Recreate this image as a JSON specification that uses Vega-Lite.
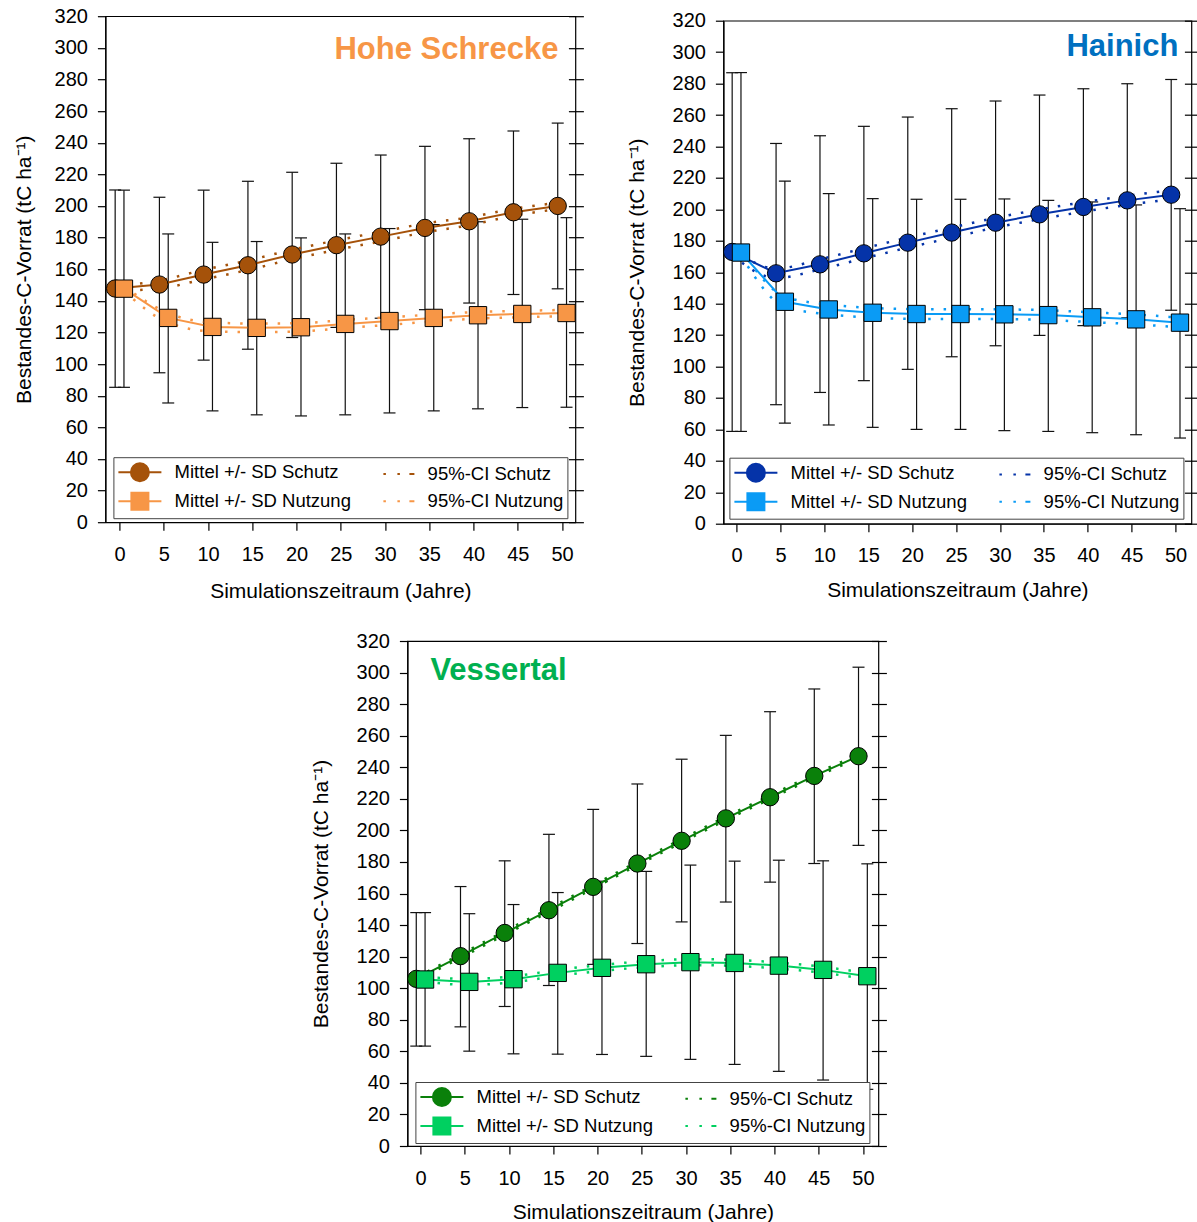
{
"$schema":"https://vega.github.io/schema/vega-lite/v6.json",
"padding":{"left":12,"top":5,"right":0,"bottom":0},
"background":"white",
"config":{
 "font":"Liberation Sans",
 "view":{"stroke":"#000","strokeWidth":1.2},
 "axis":{"labelFont":"Liberation Sans","labelFontSize":20,"labelColor":"#000","titleFont":"Liberation Sans","titleFontSize":21,"titleFontWeight":"normal","titleColor":"#000","domainColor":"#000","tickColor":"#000","grid":false,"tickSize":8,"domainWidth":1.2,"tickWidth":1.2},
 "legend":{"orient":"none","columns":2,"labelFontSize":18.5,"labelFont":"Liberation Sans","labelColor":"#000","symbolSize":400,"symbolStrokeWidth":2,"symbolOpacity":1,"symbolOffset":11.5,"labelOffset":23.7,"rowPadding":3,"columnPadding":19,"padding":4,"strokeColor":"#444","fillColor":"#fff","labelLimit":300},
 "title":{"font":"Liberation Sans"}
},
"datasets":{
"hs":[
{"t":0,"s":"Schutz","m":147.8,"lo":85.3,"hi":210.1,"cl":146.3,"cu":149.3},
{"t":5,"s":"Schutz","m":150.3,"lo":94.5,"hi":205.5,"cl":147.8,"cu":152.8},
{"t":10,"s":"Schutz","m":156.6,"lo":102.5,"hi":210.0,"cl":153.6,"cu":159.6},
{"t":15,"s":"Schutz","m":162.5,"lo":109.4,"hi":215.6,"cl":159.5,"cu":165.5},
{"t":20,"s":"Schutz","m":169.3,"lo":116.8,"hi":221.3,"cl":166.3,"cu":172.3},
{"t":25,"s":"Schutz","m":175.2,"lo":123.2,"hi":227.0,"cl":172.2,"cu":178.2},
{"t":30,"s":"Schutz","m":180.6,"lo":129.0,"hi":232.2,"cl":177.6,"cu":183.6},
{"t":35,"s":"Schutz","m":186.1,"lo":134.4,"hi":237.7,"cl":183.3,"cu":188.9},
{"t":40,"s":"Schutz","m":190.3,"lo":138.6,"hi":242.5,"cl":187.8,"cu":192.8},
{"t":45,"s":"Schutz","m":196.0,"lo":144.0,"hi":247.4,"cl":193.8,"cu":198.2},
{"t":50,"s":"Schutz","m":200.0,"lo":147.6,"hi":252.4,"cl":198.0,"cu":202.0},
{"t":0,"s":"Nutzung","m":147.7,"lo":85.3,"hi":210.0,"cl":146.2,"cu":149.2},
{"t":5,"s":"Nutzung","m":129.2,"lo":75.4,"hi":182.3,"cl":126.2,"cu":132.2},
{"t":10,"s":"Nutzung","m":123.5,"lo":70.4,"hi":177.0,"cl":120.7,"cu":126.3},
{"t":15,"s":"Nutzung","m":122.9,"lo":67.9,"hi":177.5,"cl":120.2,"cu":125.6},
{"t":20,"s":"Nutzung","m":123.3,"lo":67.2,"hi":179.8,"cl":120.7,"cu":125.9},
{"t":25,"s":"Nutzung","m":125.4,"lo":67.9,"hi":182.3,"cl":122.9,"cu":127.9},
{"t":30,"s":"Nutzung","m":127.2,"lo":69.1,"hi":185.7,"cl":124.8,"cu":129.6},
{"t":35,"s":"Nutzung","m":129.2,"lo":70.4,"hi":188.2,"cl":127.0,"cu":131.4},
{"t":40,"s":"Nutzung","m":130.9,"lo":71.7,"hi":190.0,"cl":128.8,"cu":133.0},
{"t":45,"s":"Nutzung","m":131.7,"lo":72.5,"hi":191.6,"cl":129.7,"cu":133.7},
{"t":50,"s":"Nutzung","m":132.3,"lo":72.7,"hi":192.6,"cl":130.3,"cu":134.3}
],
"ha":[
{"t":0,"s":"Schutz","m":172.9,"lo":58.7,"hi":286.9,"cl":170.9,"cu":174.9},
{"t":5,"s":"Schutz","m":159.3,"lo":75.7,"hi":241.9,"cl":156.3,"cu":162.3},
{"t":10,"s":"Schutz","m":165.0,"lo":83.5,"hi":246.8,"cl":161.8,"cu":168.2},
{"t":15,"s":"Schutz","m":172.0,"lo":91.0,"hi":252.8,"cl":168.8,"cu":175.2},
{"t":20,"s":"Schutz","m":178.8,"lo":98.2,"hi":258.7,"cl":175.6,"cu":182.0},
{"t":25,"s":"Schutz","m":185.2,"lo":106.2,"hi":264.0,"cl":182.0,"cu":188.4},
{"t":30,"s":"Schutz","m":191.5,"lo":113.2,"hi":268.9,"cl":188.4,"cu":194.6},
{"t":35,"s":"Schutz","m":196.8,"lo":119.8,"hi":272.7,"cl":193.7,"cu":199.9},
{"t":40,"s":"Schutz","m":201.5,"lo":126.0,"hi":276.7,"cl":198.5,"cu":204.5},
{"t":45,"s":"Schutz","m":205.7,"lo":131.0,"hi":279.9,"cl":202.8,"cu":208.6},
{"t":50,"s":"Schutz","m":209.3,"lo":135.8,"hi":282.6,"cl":206.4,"cu":212.2},
{"t":0,"s":"Nutzung","m":172.5,"lo":58.7,"hi":287.0,"cl":170.5,"cu":174.5},
{"t":5,"s":"Nutzung","m":141.2,"lo":64.0,"hi":218.0,"cl":138.0,"cu":144.4},
{"t":10,"s":"Nutzung","m":136.3,"lo":62.8,"hi":210.0,"cl":133.2,"cu":139.4},
{"t":15,"s":"Nutzung","m":134.2,"lo":61.3,"hi":206.8,"cl":131.1,"cu":137.3},
{"t":20,"s":"Nutzung","m":133.4,"lo":60.0,"hi":206.4,"cl":130.3,"cu":136.5},
{"t":25,"s":"Nutzung","m":133.4,"lo":60.0,"hi":206.4,"cl":130.3,"cu":136.5},
{"t":30,"s":"Nutzung","m":133.2,"lo":59.2,"hi":206.6,"cl":130.1,"cu":136.3},
{"t":35,"s":"Nutzung","m":132.7,"lo":58.7,"hi":205.7,"cl":129.6,"cu":135.8},
{"t":40,"s":"Nutzung","m":131.3,"lo":57.9,"hi":204.7,"cl":128.2,"cu":134.4},
{"t":45,"s":"Nutzung","m":130.0,"lo":56.6,"hi":202.8,"cl":126.9,"cu":133.1},
{"t":50,"s":"Nutzung","m":127.9,"lo":54.5,"hi":200.4,"cl":124.8,"cu":131.0}
],
"ve":[
{"t":0,"s":"Schutz","m":105.9,"lo":63.3,"hi":147.9,"cl":104.9,"cu":106.9},
{"t":5,"s":"Schutz","m":120.3,"lo":75.5,"hi":164.4,"cl":119.2,"cu":121.4},
{"t":10,"s":"Schutz","m":135.0,"lo":88.4,"hi":180.7,"cl":133.9,"cu":136.1},
{"t":15,"s":"Schutz","m":149.4,"lo":101.7,"hi":197.5,"cl":148.3,"cu":150.5},
{"t":20,"s":"Schutz","m":164.2,"lo":115.1,"hi":213.3,"cl":163.1,"cu":165.3},
{"t":25,"s":"Schutz","m":179.0,"lo":128.3,"hi":229.4,"cl":177.9,"cu":180.1},
{"t":30,"s":"Schutz","m":193.4,"lo":142.0,"hi":245.1,"cl":192.3,"cu":194.5},
{"t":35,"s":"Schutz","m":207.6,"lo":154.6,"hi":260.2,"cl":206.5,"cu":208.7},
{"t":40,"s":"Schutz","m":221.0,"lo":167.2,"hi":275.2,"cl":219.9,"cu":222.1},
{"t":45,"s":"Schutz","m":234.5,"lo":179.0,"hi":289.6,"cl":233.4,"cu":235.6},
{"t":50,"s":"Schutz","m":247.0,"lo":190.5,"hi":303.4,"cl":245.9,"cu":248.1},
{"t":0,"s":"Nutzung","m":105.5,"lo":63.3,"hi":147.9,"cl":104.0,"cu":107.0},
{"t":5,"s":"Nutzung","m":104.0,"lo":60.1,"hi":147.2,"cl":102.1,"cu":105.9},
{"t":10,"s":"Nutzung","m":105.7,"lo":58.4,"hi":153.0,"cl":103.8,"cu":107.6},
{"t":15,"s":"Nutzung","m":109.7,"lo":58.2,"hi":160.6,"cl":107.8,"cu":111.6},
{"t":20,"s":"Nutzung","m":112.9,"lo":58.0,"hi":167.8,"cl":111.0,"cu":114.8},
{"t":25,"s":"Nutzung","m":115.2,"lo":56.8,"hi":174.0,"cl":113.3,"cu":117.1},
{"t":30,"s":"Nutzung","m":116.5,"lo":54.9,"hi":178.0,"cl":114.6,"cu":118.4},
{"t":35,"s":"Nutzung","m":116.0,"lo":51.7,"hi":180.5,"cl":114.1,"cu":117.9},
{"t":40,"s":"Nutzung","m":114.3,"lo":47.3,"hi":181.1,"cl":112.4,"cu":116.2},
{"t":45,"s":"Nutzung","m":111.6,"lo":41.8,"hi":180.7,"cl":109.7,"cu":113.5},
{"t":50,"s":"Nutzung","m":107.6,"lo":35.9,"hi":178.8,"cl":105.7,"cu":109.5}
]
},
"spacing":24,
"center":true,
"resolve":{"scale":{"fill":"independent","stroke":"independent","shape":"independent"},"legend":{"fill":"independent","stroke":"independent","shape":"independent"}},
"vconcat":[
{"hconcat":[
{
"width":470,"height":506,
"data":{"name":"hs"},
"title":{"text":"Hohe Schrecke","anchor":"end","frame":"group","orient":"top","offset":-84,"dx":-17,"fontSize":31,"fontWeight":"bold","color":"#F79646","baseline":"alphabetic"},
"resolve":{"axis":{"y":"independent"}},
"encoding":{"x":{"field":"t","type":"quantitative","scale":{"domain":[-1.6,51.5],"nice":false,"zero":false},"axis":{"values":[0,5,10,15,20,25,30,35,40,45,50],"title":["Simulationszeitraum (Jahre)"," "],"titleLineHeight":4,"labelPadding":14,"titlePadding":16,"labelFlush":false,"labelOverlap":false}}},
"layer":[
{"transform":[{"filter":"datum.s=='Schutz'"}],"mark":{"type":"rule","xOffset":-4.4,"color":"#111","strokeWidth":1.2},
 "encoding":{"y":{"field":"lo","type":"quantitative","scale":{"domain":[0,320],"nice":false},"axis":{"values":[0,20,40,60,80,100,120,140,160,180,200,220,240,260,280,300,320],"title":"Bestandes-C-Vorrat (tC ha⁻¹)","labelPadding":10,"titlePadding":20,"labelOverlap":false,"labelFlush":false}},"y2":{"field":"hi"}}},
{"transform":[{"filter":"datum.s=='Nutzung'"}],"mark":{"type":"rule","xOffset":4.4,"color":"#111","strokeWidth":1.2},
 "encoding":{"y":{"field":"lo","type":"quantitative","axis":{"orient":"right","values":[0,20,40,60,80,100,120,140,160,180,200,220,240,260,280,300,320],"labels":false,"domain":false,"title":null,"tickSize":15,"offset":-7}},"y2":{"field":"hi"}}},
{"transform":[{"filter":"datum.s=='Schutz'"}],"mark":{"type":"tick","orient":"horizontal","size":12,"thickness":1.2,"color":"#111","opacity":1,"xOffset":-4.4},"encoding":{"y":{"field":"lo","type":"quantitative","axis":null}}},
{"transform":[{"filter":"datum.s=='Schutz'"}],"mark":{"type":"tick","orient":"horizontal","size":12,"thickness":1.2,"color":"#111","opacity":1,"xOffset":-4.4},"encoding":{"y":{"field":"hi","type":"quantitative","axis":null}}},
{"transform":[{"filter":"datum.s=='Nutzung'"}],"mark":{"type":"tick","orient":"horizontal","size":12,"thickness":1.2,"color":"#111","opacity":1,"xOffset":4.4},"encoding":{"y":{"field":"lo","type":"quantitative","axis":null}}},
{"transform":[{"filter":"datum.s=='Nutzung'"}],"mark":{"type":"tick","orient":"horizontal","size":12,"thickness":1.2,"color":"#111","opacity":1,"xOffset":4.4},"encoding":{"y":{"field":"hi","type":"quantitative","axis":null}}},
{"transform":[{"filter":"datum.s=='Schutz'"}],"mark":{"type":"line","interpolate":"monotone","strokeDash":[2.5,10],"strokeWidth":2.5,"color":"#A5520A","xOffset":-4.4},"encoding":{"y":{"field":"cu","type":"quantitative","axis":null}}},
{"transform":[{"filter":"datum.s=='Schutz'"}],"mark":{"type":"line","interpolate":"monotone","strokeDash":[2.5,10],"strokeWidth":2.5,"color":"#A5520A","xOffset":-4.4},"encoding":{"y":{"field":"cl","type":"quantitative","axis":null}}},
{"transform":[{"filter":"datum.s=='Nutzung'"}],"mark":{"type":"line","interpolate":"monotone","strokeDash":[2.5,10],"strokeWidth":2.5,"color":"#F79646","xOffset":4.4},"encoding":{"y":{"field":"cu","type":"quantitative","axis":null}}},
{"transform":[{"filter":"datum.s=='Nutzung'"}],"mark":{"type":"line","interpolate":"monotone","strokeDash":[2.5,10],"strokeWidth":2.5,"color":"#F79646","xOffset":4.4},"encoding":{"y":{"field":"cl","type":"quantitative","axis":null}}},
{"transform":[{"filter":"datum.s=='Schutz'"}],"mark":{"type":"line","strokeWidth":2,"color":"#A5520A","xOffset":-4.4},"encoding":{"y":{"field":"m","type":"quantitative","axis":null}}},
{"transform":[{"filter":"datum.s=='Nutzung'"}],"mark":{"type":"line","strokeWidth":2,"color":"#F79646","xOffset":4.4},"encoding":{"y":{"field":"m","type":"quantitative","axis":null}}},
{"transform":[{"filter":"datum.s=='Schutz'"}],"mark":{"type":"point","shape":"circle","filled":true,"fill":"#A5520A","stroke":"#000","strokeWidth":1,"size":300,"opacity":1,"xOffset":-4.4},"encoding":{"y":{"field":"m","type":"quantitative","axis":null}}},
{"transform":[{"filter":"datum.s=='Nutzung'"}],"mark":{"type":"point","shape":"square","filled":true,"fill":"#F79646","stroke":"#000","strokeWidth":1,"size":300,"opacity":1,"xOffset":4.4},"encoding":{"y":{"field":"m","type":"quantitative","axis":null}}},
{"data":{"values":[{"leg":"Mittel +/- SD Schutz"},{"leg":"Mittel +/- SD Nutzung"},{"leg":"95%-CI Schutz"},{"leg":"95%-CI Nutzung"}]},
 "mark":{"type":"point","filled":true,"opacity":0},
 "encoding":{
  "fill":{"field":"leg","type":"nominal","scale":{"domain":["Mittel +/- SD Schutz","Mittel +/- SD Nutzung","95%-CI Schutz","95%-CI Nutzung"],"range":["#A5520A","#F79646","transparent","transparent"]},"legend":{"legendX":8,"legendY":441,"title":null}},
  "stroke":{"field":"leg","type":"nominal","scale":{"domain":["Mittel +/- SD Schutz","Mittel +/- SD Nutzung","95%-CI Schutz","95%-CI Nutzung"],"range":["#A5520A","#F79646","#A5520A","#F79646"]},"legend":{"legendX":8,"legendY":441,"title":null}},
  "shape":{"field":"leg","type":"nominal","scale":{"domain":["Mittel +/- SD Schutz","Mittel +/- SD Nutzung","95%-CI Schutz","95%-CI Nutzung"],"range":["M-2.15,0H-0.9M0.9,0H2.15M-0.9,0A0.9,0.9,0,1,0,0.9,0A0.9,0.9,0,1,0,-0.9,0Z","M-2.15,0H-0.85M0.85,0H2.15M-0.85,-0.85H0.85V0.85H-0.85Z","M-0.95,0H-0.7M0.45,0H0.7M1.65,0H2.15","M-0.95,0H-0.7M0.45,0H0.7M1.65,0H2.15"]},"legend":{"legendX":8,"legendY":441,"title":null}}
 }}
]
},
{
"width":468,"height":503,
"data":{"name":"ha"},
"title":{"text":"Hainich","anchor":"end","frame":"group","orient":"top","offset":-76,"dx":-13,"fontSize":31,"fontWeight":"bold","color":"#0070C0","baseline":"alphabetic"},
"resolve":{"axis":{"y":"independent"}},
"encoding":{"x":{"field":"t","type":"quantitative","scale":{"domain":[-1.5,51.8],"nice":false,"zero":false},"axis":{"values":[0,5,10,15,20,25,30,35,40,45,50],"title":"Simulationszeitraum (Jahre)","labelPadding":14,"titlePadding":14,"labelFlush":false,"labelOverlap":false}}},
"layer":[
{"transform":[{"filter":"datum.s=='Schutz'"}],"mark":{"type":"rule","xOffset":-4.4,"color":"#111","strokeWidth":1.2},
 "encoding":{"y":{"field":"lo","type":"quantitative","scale":{"domain":[0,320],"nice":false},"axis":{"values":[0,20,40,60,80,100,120,140,160,180,200,220,240,260,280,300,320],"title":"Bestandes-C-Vorrat (tC ha⁻¹)","labelPadding":10,"titlePadding":25,"labelOverlap":false,"labelFlush":false}},"y2":{"field":"hi"}}},
{"transform":[{"filter":"datum.s=='Nutzung'"}],"mark":{"type":"rule","xOffset":4.4,"color":"#111","strokeWidth":1.2},
 "encoding":{"y":{"field":"lo","type":"quantitative","axis":{"orient":"right","values":[0,20,40,60,80,100,120,140,160,180,200,220,240,260,280,300,320],"labels":false,"domain":false,"title":null,"tickSize":15,"offset":-7}},"y2":{"field":"hi"}}},
{"transform":[{"filter":"datum.s=='Schutz'"}],"mark":{"type":"tick","orient":"horizontal","size":12,"thickness":1.2,"color":"#111","opacity":1,"xOffset":-4.4},"encoding":{"y":{"field":"lo","type":"quantitative","axis":null}}},
{"transform":[{"filter":"datum.s=='Schutz'"}],"mark":{"type":"tick","orient":"horizontal","size":12,"thickness":1.2,"color":"#111","opacity":1,"xOffset":-4.4},"encoding":{"y":{"field":"hi","type":"quantitative","axis":null}}},
{"transform":[{"filter":"datum.s=='Nutzung'"}],"mark":{"type":"tick","orient":"horizontal","size":12,"thickness":1.2,"color":"#111","opacity":1,"xOffset":4.4},"encoding":{"y":{"field":"lo","type":"quantitative","axis":null}}},
{"transform":[{"filter":"datum.s=='Nutzung'"}],"mark":{"type":"tick","orient":"horizontal","size":12,"thickness":1.2,"color":"#111","opacity":1,"xOffset":4.4},"encoding":{"y":{"field":"hi","type":"quantitative","axis":null}}},
{"transform":[{"filter":"datum.s=='Schutz'"}],"mark":{"type":"line","interpolate":"monotone","strokeDash":[2.5,10],"strokeWidth":2.5,"color":"#0533A8","xOffset":-4.4},"encoding":{"y":{"field":"cu","type":"quantitative","axis":null}}},
{"transform":[{"filter":"datum.s=='Schutz'"}],"mark":{"type":"line","interpolate":"monotone","strokeDash":[2.5,10],"strokeWidth":2.5,"color":"#0533A8","xOffset":-4.4},"encoding":{"y":{"field":"cl","type":"quantitative","axis":null}}},
{"transform":[{"filter":"datum.s=='Nutzung'"}],"mark":{"type":"line","interpolate":"monotone","strokeDash":[2.5,10],"strokeWidth":2.5,"color":"#0A9BF5","xOffset":4.4},"encoding":{"y":{"field":"cu","type":"quantitative","axis":null}}},
{"transform":[{"filter":"datum.s=='Nutzung'"}],"mark":{"type":"line","interpolate":"monotone","strokeDash":[2.5,10],"strokeWidth":2.5,"color":"#0A9BF5","xOffset":4.4},"encoding":{"y":{"field":"cl","type":"quantitative","axis":null}}},
{"transform":[{"filter":"datum.s=='Schutz'"}],"mark":{"type":"line","strokeWidth":2,"color":"#0533A8","xOffset":-4.4},"encoding":{"y":{"field":"m","type":"quantitative","axis":null}}},
{"transform":[{"filter":"datum.s=='Nutzung'"}],"mark":{"type":"line","strokeWidth":2,"color":"#0A9BF5","xOffset":4.4},"encoding":{"y":{"field":"m","type":"quantitative","axis":null}}},
{"transform":[{"filter":"datum.s=='Schutz'"}],"mark":{"type":"point","shape":"circle","filled":true,"fill":"#0533A8","stroke":"#000","strokeWidth":1,"size":300,"opacity":1,"xOffset":-4.4},"encoding":{"y":{"field":"m","type":"quantitative","axis":null}}},
{"transform":[{"filter":"datum.s=='Nutzung'"}],"mark":{"type":"point","shape":"square","filled":true,"fill":"#0A9BF5","stroke":"#000","strokeWidth":1,"size":300,"opacity":1,"xOffset":4.4},"encoding":{"y":{"field":"m","type":"quantitative","axis":null}}},
{"data":{"values":[{"leg":"Mittel +/- SD Schutz"},{"leg":"Mittel +/- SD Nutzung"},{"leg":"95%-CI Schutz"},{"leg":"95%-CI Nutzung"}]},
 "mark":{"type":"point","filled":true,"opacity":0},
 "encoding":{
  "fill":{"field":"leg","type":"nominal","scale":{"domain":["Mittel +/- SD Schutz","Mittel +/- SD Nutzung","95%-CI Schutz","95%-CI Nutzung"],"range":["#0533A8","#0A9BF5","transparent","transparent"]},"legend":{"legendX":6,"legendY":437,"title":null}},
  "stroke":{"field":"leg","type":"nominal","scale":{"domain":["Mittel +/- SD Schutz","Mittel +/- SD Nutzung","95%-CI Schutz","95%-CI Nutzung"],"range":["#0533A8","#0A9BF5","#0533A8","#0A9BF5"]},"legend":{"legendX":6,"legendY":437,"title":null}},
  "shape":{"field":"leg","type":"nominal","scale":{"domain":["Mittel +/- SD Schutz","Mittel +/- SD Nutzung","95%-CI Schutz","95%-CI Nutzung"],"range":["M-2.15,0H-0.9M0.9,0H2.15M-0.9,0A0.9,0.9,0,1,0,0.9,0A0.9,0.9,0,1,0,-0.9,0Z","M-2.15,0H-0.85M0.85,0H2.15M-0.85,-0.85H0.85V0.85H-0.85Z","M-0.95,0H-0.7M0.45,0H0.7M1.65,0H2.15","M-0.95,0H-0.7M0.45,0H0.7M1.65,0H2.15"]},"legend":{"legendX":6,"legendY":437,"title":null}}
 }}
]
}
],"spacing":40,"center":true,
"resolve":{"scale":{"fill":"independent","stroke":"independent","shape":"independent"},"legend":{"fill":"independent","stroke":"independent","shape":"independent"}}},
{
"width":471,"height":505,
"data":{"name":"ve"},
"title":{"text":"Vessertal","anchor":"start","frame":"group","orient":"top","offset":-80,"dx":23,"fontSize":31,"fontWeight":"bold","color":"#00B050","baseline":"alphabetic"},
"resolve":{"axis":{"y":"independent"}},
"encoding":{"x":{"field":"t","type":"quantitative","scale":{"domain":[-1.5,51.75],"nice":false,"zero":false},"axis":{"values":[0,5,10,15,20,25,30,35,40,45,50],"title":"Simulationszeitraum (Jahre)","labelPadding":14,"titlePadding":13,"labelFlush":false,"labelOverlap":false}}},
"layer":[
{"transform":[{"filter":"datum.s=='Schutz'"}],"mark":{"type":"rule","xOffset":-4.4,"color":"#111","strokeWidth":1.2},
 "encoding":{"y":{"field":"lo","type":"quantitative","scale":{"domain":[0,320],"nice":false},"axis":{"values":[0,20,40,60,80,100,120,140,160,180,200,220,240,260,280,300,320],"title":"Bestandes-C-Vorrat (tC ha⁻¹)","labelPadding":10,"titlePadding":25,"labelOverlap":false,"labelFlush":false}},"y2":{"field":"hi"}}},
{"transform":[{"filter":"datum.s=='Nutzung'"}],"mark":{"type":"rule","xOffset":4.4,"color":"#111","strokeWidth":1.2},
 "encoding":{"y":{"field":"lo","type":"quantitative","axis":{"orient":"right","values":[0,20,40,60,80,100,120,140,160,180,200,220,240,260,280,300,320],"labels":false,"domain":false,"title":" ","titleFontSize":10,"titlePadding":1,"tickSize":15,"offset":-7}},"y2":{"field":"hi"}}},
{"transform":[{"filter":"datum.s=='Schutz'"}],"mark":{"type":"tick","orient":"horizontal","size":12,"thickness":1.2,"color":"#111","opacity":1,"xOffset":-4.4},"encoding":{"y":{"field":"lo","type":"quantitative","axis":null}}},
{"transform":[{"filter":"datum.s=='Schutz'"}],"mark":{"type":"tick","orient":"horizontal","size":12,"thickness":1.2,"color":"#111","opacity":1,"xOffset":-4.4},"encoding":{"y":{"field":"hi","type":"quantitative","axis":null}}},
{"transform":[{"filter":"datum.s=='Nutzung'"}],"mark":{"type":"tick","orient":"horizontal","size":12,"thickness":1.2,"color":"#111","opacity":1,"xOffset":4.4},"encoding":{"y":{"field":"lo","type":"quantitative","axis":null}}},
{"transform":[{"filter":"datum.s=='Nutzung'"}],"mark":{"type":"tick","orient":"horizontal","size":12,"thickness":1.2,"color":"#111","opacity":1,"xOffset":4.4},"encoding":{"y":{"field":"hi","type":"quantitative","axis":null}}},
{"transform":[{"filter":"datum.s=='Schutz'"}],"mark":{"type":"line","interpolate":"monotone","strokeDash":[2.5,10],"strokeWidth":2.5,"color":"#0A800A","xOffset":-4.4},"encoding":{"y":{"field":"cu","type":"quantitative","axis":null}}},
{"transform":[{"filter":"datum.s=='Schutz'"}],"mark":{"type":"line","interpolate":"monotone","strokeDash":[2.5,10],"strokeWidth":2.5,"color":"#0A800A","xOffset":-4.4},"encoding":{"y":{"field":"cl","type":"quantitative","axis":null}}},
{"transform":[{"filter":"datum.s=='Nutzung'"}],"mark":{"type":"line","interpolate":"monotone","strokeDash":[2.5,10],"strokeWidth":2.5,"color":"#00D060","xOffset":4.4},"encoding":{"y":{"field":"cu","type":"quantitative","axis":null}}},
{"transform":[{"filter":"datum.s=='Nutzung'"}],"mark":{"type":"line","interpolate":"monotone","strokeDash":[2.5,10],"strokeWidth":2.5,"color":"#00D060","xOffset":4.4},"encoding":{"y":{"field":"cl","type":"quantitative","axis":null}}},
{"transform":[{"filter":"datum.s=='Schutz'"}],"mark":{"type":"line","strokeWidth":2,"color":"#0A800A","xOffset":-4.4},"encoding":{"y":{"field":"m","type":"quantitative","axis":null}}},
{"transform":[{"filter":"datum.s=='Nutzung'"}],"mark":{"type":"line","strokeWidth":2,"color":"#00D060","xOffset":4.4},"encoding":{"y":{"field":"m","type":"quantitative","axis":null}}},
{"transform":[{"filter":"datum.s=='Schutz'"}],"mark":{"type":"point","shape":"circle","filled":true,"fill":"#0A800A","stroke":"#000","strokeWidth":1,"size":300,"opacity":1,"xOffset":-4.4},"encoding":{"y":{"field":"m","type":"quantitative","axis":null}}},
{"transform":[{"filter":"datum.s=='Nutzung'"}],"mark":{"type":"point","shape":"square","filled":true,"fill":"#00D060","stroke":"#000","strokeWidth":1,"size":300,"opacity":1,"xOffset":4.4},"encoding":{"y":{"field":"m","type":"quantitative","axis":null}}},
{"data":{"values":[{"leg":"Mittel +/- SD Schutz"},{"leg":"Mittel +/- SD Nutzung"},{"leg":"95%-CI Schutz"},{"leg":"95%-CI Nutzung"}]},
 "mark":{"type":"point","filled":true,"opacity":0},
 "encoding":{
  "fill":{"field":"leg","type":"nominal","scale":{"domain":["Mittel +/- SD Schutz","Mittel +/- SD Nutzung","95%-CI Schutz","95%-CI Nutzung"],"range":["#0A800A","#00D060","transparent","transparent"]},"legend":{"legendX":8,"legendY":441,"title":null}},
  "stroke":{"field":"leg","type":"nominal","scale":{"domain":["Mittel +/- SD Schutz","Mittel +/- SD Nutzung","95%-CI Schutz","95%-CI Nutzung"],"range":["#0A800A","#00D060","#0A800A","#00D060"]},"legend":{"legendX":8,"legendY":441,"title":null}},
  "shape":{"field":"leg","type":"nominal","scale":{"domain":["Mittel +/- SD Schutz","Mittel +/- SD Nutzung","95%-CI Schutz","95%-CI Nutzung"],"range":["M-2.15,0H-0.9M0.9,0H2.15M-0.9,0A0.9,0.9,0,1,0,0.9,0A0.9,0.9,0,1,0,-0.9,0Z","M-2.15,0H-0.85M0.85,0H2.15M-0.85,-0.85H0.85V0.85H-0.85Z","M-0.95,0H-0.7M0.45,0H0.7M1.65,0H2.15","M-0.95,0H-0.7M0.45,0H0.7M1.65,0H2.15"]},"legend":{"legendX":8,"legendY":441,"title":null}}
 }}
]
}
]
}
